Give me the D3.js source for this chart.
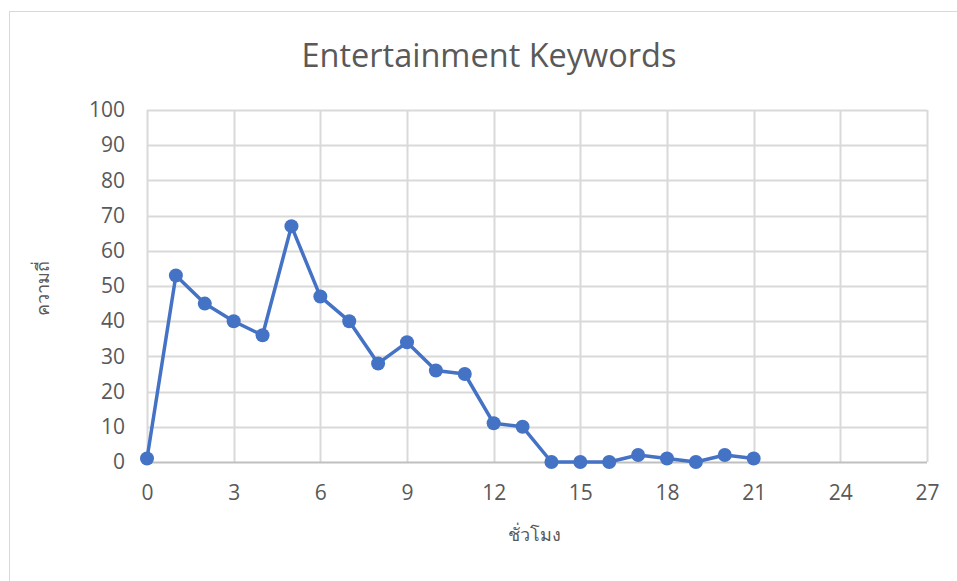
<!DOCTYPE html>
<html>
<head>
<meta charset="utf-8">
<script src="https://cdn.jsdelivr.net/npm/d3@7"></script>
<style>
  html, body { margin: 0; padding: 0; background: #fff; }
  svg { display: block; }
  text { font-family: "Open Sans", "Noto Sans", "DejaVu Sans", sans-serif; fill: #595959; }
</style>
</head>
<body>
<svg id="chart" width="957" height="581"></svg>
<script>
// Hour of day and keyword frequency for that hour
const hours = [0, 1, 2, 3, 4, 5, 6, 7, 8, 9, 10, 11, 12, 13, 14, 15, 16, 17, 18, 19, 20, 21];
const frequency = [1, 53, 45, 40, 36, 67, 47, 40, 28, 34, 26, 25, 11, 10, 0, 0, 0, 2, 1, 0, 2, 1];
const xTicks = [0, 3, 6, 9, 12, 15, 18, 21, 24, 27];
const yTicks = [0, 10, 20, 30, 40, 50, 60, 70, 80, 90, 100];

const titleText = "Entertainment Keywords";
const xTitle = "ชั่วโมง";
const yTitle = "ความถี่";

const svg = d3.select("#chart");
const W = 957, H = 581;
const plot = { left: 147, right: 927, top: 110, bottom: 462 };

// outer chart frame
svg.append("rect")
  .attr("x", 9.5).attr("y", 11.5)
  .attr("width", W + 20).attr("height", H + 20)
  .attr("fill", "#fff").attr("stroke", "#d9d9d9").attr("stroke-width", 1);

const x = d3.scaleLinear().domain([0, 27]).range([plot.left, plot.right]);
const y = d3.scaleLinear().domain([0, 100]).range([plot.bottom, plot.top]);

// gridlines
const grid = svg.append("g");
grid.selectAll("line.h").data(yTicks.filter(d => d > 0)).join("line")
  .attr("x1", plot.left).attr("x2", plot.right)
  .attr("y1", d => Math.round(y(d)) + 0.5).attr("y2", d => Math.round(y(d)) + 0.5)
  .attr("stroke", "#d9d9d9").attr("stroke-width", 2);
grid.selectAll("line.v").data(xTicks).join("line")
  .attr("y1", plot.top).attr("y2", plot.bottom)
  .attr("x1", d => Math.round(x(d)) + 0.5).attr("x2", d => Math.round(x(d)) + 0.5)
  .attr("stroke", "#d9d9d9").attr("stroke-width", 2);

// axes (labels only; baseline drawn separately)
const xAxis = d3.axisBottom(x).tickValues(xTicks).tickSize(0).tickPadding(23);
const gx = svg.append("g").attr("transform", `translate(0,${plot.bottom})`).call(xAxis);
gx.select(".domain").remove();
gx.selectAll("text").style("font-size", "21px").attr("fill", "#595959");

const yAxis = d3.axisLeft(y).tickValues(yTicks).tickSize(0).tickPadding(22);
const gy = svg.append("g").attr("transform", `translate(${plot.left},0)`).call(yAxis);
gy.select(".domain").remove();
gy.selectAll("text").style("font-size", "21px").attr("fill", "#595959");

// horizontal baseline
svg.append("line")
  .attr("x1", plot.left).attr("x2", plot.right)
  .attr("y1", plot.bottom + 0.5).attr("y2", plot.bottom + 0.5)
  .attr("stroke", "#bfbfbf").attr("stroke-width", 2);

// series line and markers
const pts = hours.map((h, i) => [h, frequency[i]]);
svg.append("path")
  .datum(pts)
  .attr("fill", "none")
  .attr("stroke", "#4472c4")
  .attr("stroke-width", 3.5)
  .attr("stroke-linejoin", "round")
  .attr("d", d3.line().x(d => x(d[0])).y(d => y(d[1])));

svg.append("g").selectAll("circle").data(pts).join("circle")
  .attr("cx", d => x(d[0])).attr("cy", d => y(d[1]))
  .attr("r", 7).attr("fill", "#4472c4");

// titles
svg.append("text")
  .attr("x", 489).attr("y", 67)
  .attr("text-anchor", "middle")
  .style("font-size", "32.5px")
  .text(titleText);

svg.append("text")
  .attr("x", 534).attr("y", 541)
  .attr("text-anchor", "middle")
  .style("font-size", "18px")
  .text(xTitle);

svg.append("text")
  .attr("transform", "translate(49,288) rotate(-90)")
  .attr("text-anchor", "middle")
  .style("font-size", "18px")
  .text(yTitle);
</script>
</body>
</html>
